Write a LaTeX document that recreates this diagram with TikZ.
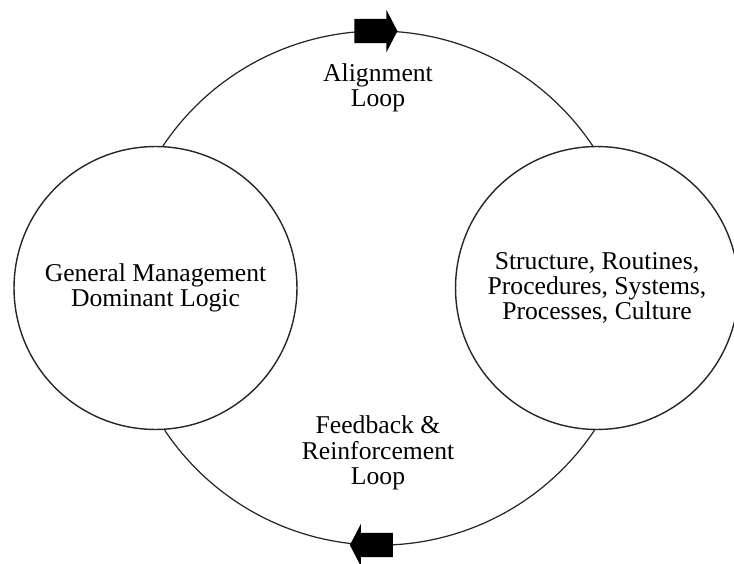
\documentclass[tikz,border=0pt]{standalone}
\usepackage{fontspec}
\setmainfont{Liberation Serif}
\usetikzlibrary{shapes.arrows}

\begin{document}
\begin{tikzpicture}
    [
        x=0.02cm, y=-0.02cm,
        every node/.style = {font=\fontsize{14.6}{14.4}\selectfont},
        unit/.style = {
                draw=black!85,
                line width=0.8pt,
                circle,
                minimum size=5.66cm,
                inner sep=0pt,
                align=center
            },
        looparc/.style = {draw=black!85, line width=0.7pt},
        looplabel/.style = {align=center},
        flow/.style = {
                single arrow,
                fill=black,
                inner xsep=0pt,
                inner ysep=0.23cm,
                minimum height=0.86cm,
                single arrow head extend=0.18cm,
                single arrow tip angle=125
            },
    ]

    \useasboundingbox (0,0) rectangle (734,564);

    \node [unit] (logic) at (155.5,288) {General Management\\Dominant Logic};
    \node [unit] (systems) at (597,288)
        {Structure, Routines,\\Procedures, Systems,\\Processes, Culture};

    \node [looplabel] (alignment) at (378,88) {Alignment\\Loop};
    \node [looplabel] (feedback) at (378,453) {Feedback \&\\Reinforcement\\Loop};

    % the two halves of the loop, each with its direction arrow
    \draw [looparc] (logic.87) arc [start angle=146.3, end angle=33.7, radius=5.168cm]
        node [flow, pos=0.49] (forward) {};
    \draw [looparc] (systems.-91) arc [start angle=-33.7, end angle=-146.3, radius=5.168cm]
        node [flow, pos=0.51, shape border rotate=180] (back) {};

\end{tikzpicture}
\end{document}
